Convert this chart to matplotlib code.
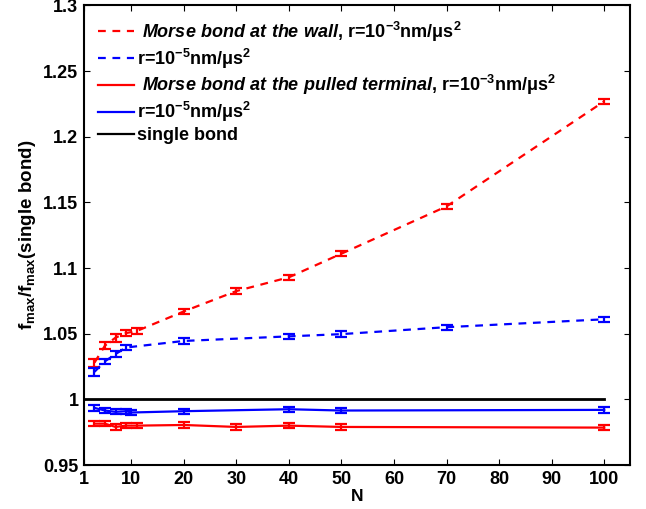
import matplotlib
matplotlib.use('Agg')
import matplotlib.pyplot as plt
from matplotlib.lines import Line2D

plt.rcParams['font.family'] = ['Liberation Sans', 'DejaVu Sans']
plt.rcParams['font.weight'] = 'bold'
plt.rcParams['mathtext.fontset'] = 'custom'
plt.rcParams['mathtext.rm'] = 'Liberation Sans:bold'
plt.rcParams['mathtext.bf'] = 'Liberation Sans:bold'
plt.rcParams['mathtext.it'] = 'Liberation Sans:bold:italic'
plt.rcParams['mathtext.sf'] = 'Liberation Sans:bold'

# wall, r=1e-3 (red dashed)
n_wall_fast = [3, 5, 7, 9, 11, 20, 30, 40, 50, 70, 100]
f_wall_fast = [1.028, 1.041, 1.047, 1.0505, 1.052, 1.067, 1.0825, 1.093, 1.111, 1.147, 1.227]
e_wall_fast = [0.003, 0.003, 0.003, 0.002, 0.002, 0.002, 0.002, 0.002, 0.002, 0.002, 0.002]

# wall, r=1e-5 (blue dashed)
n_wall_slow = [3, 5, 7, 9, 20, 40, 50, 70, 100]
f_wall_slow = [1.021, 1.029, 1.0345, 1.0395, 1.0445, 1.048, 1.0497, 1.055, 1.061]
e_wall_slow = [0.003, 0.002, 0.002, 0.002, 0.002, 0.002, 0.002, 0.002, 0.002]

# pulled terminal, r=1e-3 (red solid)
n_pull_fast = [3, 5, 7, 9, 11, 20, 30, 40, 50, 100]
f_pull_fast = [0.9815, 0.9815, 0.979, 0.98, 0.98, 0.9805, 0.979, 0.98, 0.979, 0.9785]
e_pull_fast = [0.002] * 10

# pulled terminal, r=1e-5 (blue solid)
n_pull_slow = [3, 5, 7, 9, 10, 20, 40, 50, 100]
f_pull_slow = [0.9935, 0.9915, 0.9905, 0.991, 0.990, 0.991, 0.9925, 0.9915, 0.992]
e_pull_slow = [0.002] * 9

n_single = [1, 100]
f_single = [1.0, 1.0]

unit3 = r'r=10$^{-3}$nm/$\mathrm{\mu}$s$^{2}$'
unit5 = r'r=10$^{-5}$nm/$\mathrm{\mu}$s$^{2}$'
labels = [
    r' $\mathit{Morse\ bond\ at\ the\ wall}$, ' + unit3,
    unit5,
    r' $\mathit{Morse\ bond\ at\ the\ pulled\ terminal}$, ' + unit3,
    unit5,
    'single bond',
]

xticks = [1, 10, 20, 30, 40, 50, 60, 70, 80, 90, 100]
yticks = [0.95, 1.0, 1.05, 1.1, 1.15, 1.2, 1.25, 1.3]
ytick_labels = ['0.95', '1', '1.05', '1.1', '1.15', '1.2', '1.25', '1.3']

fig = plt.figure(figsize=(6.46, 5.09), dpi=100)
ax = fig.add_axes([0.130, 0.0864, 0.846, 0.9028])

lw = 1.6
dash = (0, (3.5, 3))
ekw = dict(capsize=4, elinewidth=1.6, capthick=1.6)

ax.errorbar(n_wall_fast, f_wall_fast, yerr=e_wall_fast, color='#ff0000', lw=lw, linestyle=dash, **ekw)
ax.errorbar(n_wall_slow, f_wall_slow, yerr=e_wall_slow, color='#0000ff', lw=lw, linestyle=dash, **ekw)
ax.errorbar(n_pull_fast, f_pull_fast, yerr=e_pull_fast, color='#ff0000', lw=lw, **ekw)
ax.errorbar(n_pull_slow, f_pull_slow, yerr=e_pull_slow, color='#0000ff', lw=lw, **ekw)
ax.plot(n_single, f_single, color='black', lw=2)

handles = [
    Line2D([], [], color='#ff0000', lw=lw, linestyle=dash),
    Line2D([], [], color='#0000ff', lw=lw, linestyle=dash),
    Line2D([], [], color='#ff0000', lw=lw),
    Line2D([], [], color='#0000ff', lw=lw),
    Line2D([], [], color='black', lw=lw),
]

ax.set_xlim(1, 105)
ax.set_ylim(0.95, 1.3)
ax.set_xticks(xticks)
ax.set_yticks(yticks)
ax.set_yticklabels(ytick_labels)
ax.tick_params(direction='in', top=True, right=True, labelsize=13, length=4, width=0.8, pad=4)
for s in ax.spines.values():
    s.set_linewidth(1.5)

ax.set_xlabel('N', fontsize=12.5, fontweight='bold', labelpad=1)
ax.set_ylabel(r'f$_{\rm max}$/f$_{\rm max}$(single bond)', fontsize=13.5, fontweight='bold', labelpad=4)

ax.legend(handles, labels, loc='upper left', frameon=False, fontsize=13, handlelength=2.0,
          handletextpad=0.2, labelspacing=0.15, borderaxespad=0.0,
          bbox_to_anchor=(0.012, 0.985))

fig.savefig('out.png', dpi=100)
